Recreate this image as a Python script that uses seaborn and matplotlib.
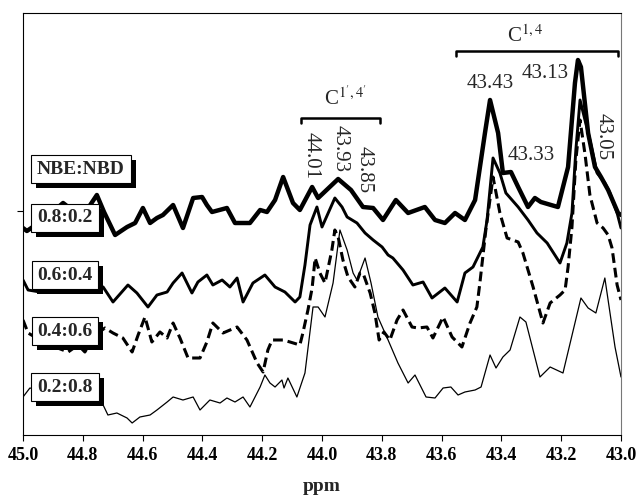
import numpy as np
import pandas as pd
import matplotlib.pyplot as plt
import matplotlib.patheffects as pe
from matplotlib.ticker import FormatStrFormatter
import seaborn as sns

# 13C NMR spectra, bridgehead carbon region, for four NBE:NBD feed ratios
# chemical shift (ppm) and relative intensity (arb. units, stacked offsets included)
ppm_08 = [45.000, 44.987, 44.943, 44.893, 44.866, 44.836, 44.793, 44.753, 44.729, 44.692,
          44.652, 44.625, 44.599, 44.575, 44.552, 44.532, 44.498, 44.465, 44.431, 44.401,
          44.385, 44.368, 44.318, 44.291, 44.241, 44.207, 44.184, 44.157, 44.130, 44.097,
          44.074, 44.033, 44.013, 43.946, 43.903, 43.863, 43.829, 43.796, 43.753, 43.712,
          43.656, 43.622, 43.589, 43.555, 43.522, 43.488, 43.455, 43.438, 43.411, 43.395,
          43.368, 43.344, 43.311, 43.288, 43.268, 43.234, 43.211, 43.177, 43.154, 43.144,
          43.134, 43.110, 43.087, 43.067, 43.043, 43.010, 43.000]
int_08 = [207, 204, 213, 225, 232, 225, 222, 240, 223, 200,
          208, 212, 227, 212, 217, 220, 230, 207, 237, 238,
          230, 223, 227, 212, 212, 225, 223, 235, 258, 232,
          225, 248, 237, 256, 245, 228, 227, 215, 235, 222,
          228, 215, 212, 222, 215, 235, 302, 335, 302, 262,
          263, 248, 228, 237, 233, 230, 228, 268, 352, 375,
          368, 302, 268, 258, 245, 222, 220]

ppm_06 = [45.000, 44.983, 44.943, 44.843, 44.759, 44.732, 44.699, 44.649, 44.619, 44.582,
          44.552, 44.518, 44.498, 44.468, 44.435, 44.415, 44.385, 44.365, 44.334, 44.308,
          44.284, 44.264, 44.231, 44.191, 44.157, 44.124, 44.090, 44.074, 44.057, 44.040,
          44.017, 44.000, 43.957, 43.933, 43.916, 43.883, 43.856, 43.829, 43.799, 43.779,
          43.763, 43.729, 43.696, 43.662, 43.632, 43.589, 43.548, 43.522, 43.495, 43.462,
          43.448, 43.428, 43.405, 43.385, 43.344, 43.311, 43.281, 43.247, 43.204, 43.181,
          43.164, 43.151, 43.137, 43.104, 43.080, 43.054, 43.037, 43.013, 43.000]
int_06 = [155, 145, 143, 147, 150, 148, 133, 150, 142, 128,
          140, 143, 152, 162, 142, 153, 160, 150, 155, 148,
          157, 133, 152, 160, 148, 143, 133, 138, 170, 210,
          228, 208, 237, 228, 218, 212, 202, 195, 188, 180,
          177, 165, 150, 153, 137, 147, 133, 162, 168, 188,
          215, 277, 262, 242, 228, 215, 202, 192, 172, 192,
          222, 285, 335, 295, 262, 252, 242, 222, 207]

ppm_04 = [45.000, 44.983, 44.943, 44.893, 44.849, 44.816, 44.793, 44.759, 44.726, 44.699,
          44.666, 44.635, 44.615, 44.592, 44.569, 44.542, 44.518, 44.498, 44.475, 44.448,
          44.408, 44.385, 44.365, 44.331, 44.284, 44.251, 44.217, 44.197, 44.181, 44.167,
          44.130, 44.107, 44.074, 44.064, 44.047, 44.033, 44.023, 44.007, 43.990, 43.967,
          43.957, 43.946, 43.930, 43.913, 43.890, 43.873, 43.863, 43.839, 43.823, 43.809,
          43.793, 43.773, 43.749, 43.729, 43.699, 43.679, 43.649, 43.629, 43.595, 43.565,
          43.532, 43.505, 43.482, 43.472, 43.452, 43.428, 43.405, 43.381, 43.344, 43.328,
          43.294, 43.261, 43.237, 43.204, 43.187, 43.177, 43.164, 43.151, 43.137, 43.120,
          43.104, 43.080, 43.060, 43.043, 43.030, 43.013, 43.000]
int_04 = [115, 102, 95, 88, 83, 90, 83, 100, 107, 102,
          97, 83, 100, 118, 93, 103, 97, 112, 97, 77,
          77, 93, 112, 102, 108, 95, 72, 63, 85, 95,
          95, 93, 90, 102, 125, 147, 177, 162, 152, 185,
          205, 198, 175, 158, 148, 162, 162, 142, 122, 95,
          103, 95, 115, 125, 108, 107, 108, 97, 118, 98,
          88, 112, 128, 152, 205, 258, 222, 197, 193, 182,
          148, 112, 132, 140, 145, 168, 208, 275, 315, 280,
          240, 212, 207, 200, 187, 150, 135]

ppm_02 = [45.000, 44.977, 44.876, 44.776, 44.732, 44.716, 44.686, 44.652, 44.635, 44.609,
          44.575, 44.552, 44.518, 44.498, 44.465, 44.431, 44.408, 44.375, 44.341, 44.318,
          44.291, 44.264, 44.241, 44.207, 44.191, 44.174, 44.157, 44.134, 44.127, 44.114,
          44.084, 44.057, 44.030, 44.013, 43.990, 43.963, 43.940, 43.916, 43.896, 43.883,
          43.856, 43.836, 43.813, 43.779, 43.746, 43.712, 43.689, 43.652, 43.622, 43.595,
          43.569, 43.545, 43.522, 43.488, 43.468, 43.438, 43.418, 43.395, 43.371, 43.338,
          43.318, 43.271, 43.237, 43.194, 43.134, 43.110, 43.084, 43.054, 43.020, 43.000]
int_02 = [38, 47, 40, 35, 30, 20, 22, 17, 12, 18,
          20, 25, 33, 38, 35, 38, 25, 35, 32, 37,
          33, 38, 28, 48, 60, 52, 48, 55, 47, 57,
          38, 62, 128, 128, 118, 152, 205, 185, 162, 155,
          177, 152, 118, 95, 72, 52, 60, 38, 37, 47,
          48, 40, 43, 45, 48, 80, 67, 78, 85, 118,
          113, 58, 68, 62, 137, 127, 122, 157, 88, 58]

ratio_labels = ['0.8:0.2', '0.6:0.4', '0.4:0.6', '0.2:0.8']
peak_labels = ['44.01', '43.93', '43.85', '43.43', '43.33', '43.13', '43.05']

sns.set_style('ticks')
plt.rcParams['font.family'] = ['Liberation Serif', 'DejaVu Serif']
plt.rcParams['mathtext.fontset'] = 'stix'

fig = plt.figure(figsize=(6.38, 5), dpi=100)
ax = fig.add_axes([23 / 638, 65 / 500, 598 / 638, 422 / 500])

spectra = [(ppm_08, int_08, 3.2, '-'),
           (ppm_06, int_06, 2.1, '-'),
           (ppm_04, int_04, 2.2, (0, (3.2, 1.6))),
           (ppm_02, int_02, 0.9, '-')]
for ppm, inten, lw, ls in spectra:
    df = pd.DataFrame({'ppm': ppm, 'intensity': inten})
    sns.lineplot(data=df, x='ppm', y='intensity', ax=ax, color='black',
                 lw=lw, linestyle=ls, estimator=None, sort=False, zorder=2)

ax.set_xlim(45.0, 43.0)
ax.set_ylim(0, 422)
ax.set_xticks(np.arange(43.0, 45.01, 0.2))
ax.xaxis.set_major_formatter(FormatStrFormatter('%.1f'))
ax.set_yticks([224])
ax.set_yticklabels([])
ax.tick_params(axis='both', direction='out', length=4, width=0.8, colors='black')
for lab in ax.get_xticklabels():
    lab.set_fontweight('bold')
    lab.set_fontsize(13)
ax.tick_params(axis='x', pad=5)
ax.set_ylabel('')
ax.set_xlabel('ppm', fontsize=14, fontweight='bold', labelpad=10)
for side in ['left', 'bottom', 'top', 'right']:
    ax.spines[side].set_visible(True)
    ax.spines[side].set_linewidth(0.8)
    ax.spines[side].set_color('black')
ax.spines['right'].set_color('#777777')

# legend-like boxes with a solid drop shadow
def ratio_box(x_px, y_px, text):
    t = ax.text(x_px / 638, 1 - y_px / 500, text, transform=fig.transFigure,
                ha='center', va='center', fontsize=14, fontweight='bold', zorder=6,
                bbox=dict(boxstyle='square,pad=0.3', fc='white', ec='black', lw=0.8))
    t.get_bbox_patch().set_path_effects([
        pe.SimplePatchShadow(offset=(3.6, -3.6), shadow_rgbFace='black', alpha=1.0),
        pe.Normal()])

ratio_box(81, 169, 'NBE:NBD')
for y_px, lab in zip([218, 275, 331, 387], ratio_labels):
    ratio_box(65, y_px, lab)

# peak assignments
peak_pos = [(44.037, 279, 270), (43.940, 286, 270), (43.860, 265, 270),
            (43.438, 352, 0), (43.301, 280, 0), (43.254, 362, 0), (43.060, 298, 270)]
for (x, y, rot), lab in zip(peak_pos, peak_labels):
    ax.text(x, y, lab, fontsize=15, rotation=rot, ha='center', va='center', zorder=4)

# brackets for the two carbon groups
ax.plot([44.07, 44.07, 43.806, 43.806], [312, 317, 317, 312], color='black', lw=1.8)
ax.text(43.923, 337, r"C$^{1',4'}$", fontsize=15, ha='center', va='center')
ax.plot([43.552, 43.552, 43.010, 43.010], [379, 384, 384, 379], color='black', lw=1.8)
ax.text(43.321, 399, r"C$^{1,4}$", fontsize=15, ha='center', va='center')

fig.savefig('out.png', dpi=100)
